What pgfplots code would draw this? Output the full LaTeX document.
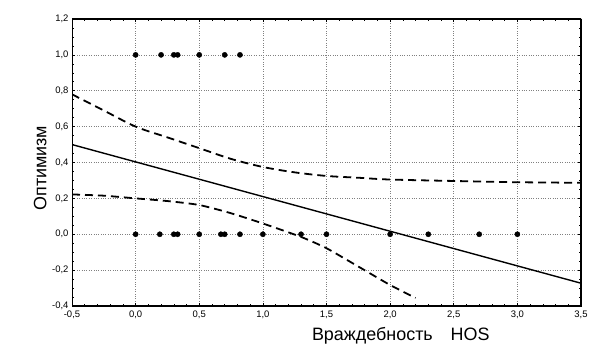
\documentclass[border=0pt]{standalone}
\usepackage{fontspec}
\setmainfont{Liberation Sans}
\usepackage{pgfplots}
\pgfplotsset{compat=1.18}
\begin{document}
\begin{tikzpicture}
\begin{axis}[
  scale only axis, width=509bp, height=287bp,
  xmin=-0.5, xmax=3.5, ymin=-0.4, ymax=1.2,
  xtick={-0.5,0,0.5,1,1.5,2,2.5,3,3.5},
  ytick={-0.4,-0.2,0,0.2,0.4,0.6,0.8,1.0,1.2},
  minor x tick num=4, minor y tick num=3,
  tick align=inside, major tick length=3bp, minor tick length=2bp,
  grid=major,
  major grid style={dotted, gray, line width=0.7pt},
  tick style={black, line width=0.6pt},
  /pgf/number format/.cd, use comma, fixed, fixed zerofill, precision=1, assume math mode=true,
  /pgfplots/.cd,
  ticklabel style={font=\fontsize{9.5}{10}\selectfont},
  xticklabel style={yshift=-1bp},
  xlabel={Враждебность\quad HOS},
  ylabel={Оптимизм},
  label style={font=\fontsize{18}{20}\selectfont},
  xlabel style={at={(axis description cs:0.646,0)}, anchor=north, yshift=-18bp},
  ylabel style={at={(axis description cs:0,0.48)}, anchor=south, yshift=22bp},
  clip=true,
]
% data points
\addplot[only marks, mark=*, mark size=2.6bp, black] coordinates {
 (0,1) (0.2,1) (0.3,1) (0.33,1) (0.5,1) (0.7,1) (0.82,1)
 (0,0) (0.19,0) (0.3,0) (0.33,0) (0.5,0) (0.67,0) (0.7,0) (0.82,0) (1.0,0)
 (1.3,0) (1.5,0) (2.0,0) (2.3,0) (2.7,0) (3.0,0)
};
% regression line
\addplot[black, line width=1.4pt] coordinates {(-0.5,0.5) (3.5,-0.273)};
% upper confidence band
\addplot[black, line width=1.8pt, dash pattern=on 8bp off 5bp, smooth] coordinates {
 (-0.5,0.78) (-0.25,0.69) (0,0.60) (0.25,0.54) (0.5,0.48) (0.75,0.42) (1.0,0.375)
 (1.25,0.345) (1.5,0.325) (1.75,0.315) (2.0,0.305) (2.5,0.297) (3.0,0.29) (3.5,0.287)
};
% lower confidence band
\addplot[black, line width=1.8pt, dash pattern=on 8bp off 5bp, smooth, tension=0.4] coordinates {
 (-0.5,0.222) (-0.25,0.215) (0,0.20) (0.25,0.185) (0.5,0.163) (0.75,0.117) (1.0,0.06)
 (1.3,-0.015) (1.5,-0.078) (1.75,-0.18) (2.0,-0.283) (2.2,-0.355)
};
\draw[line width=1.6pt] (rel axis cs:0,0) rectangle (rel axis cs:1,1);
\end{axis}
\path ([shift={(-72bp,-57bp)}]current axis.south west) rectangle ([shift={(13bp,19bp)}]current axis.north east);
\end{tikzpicture}
\end{document}
